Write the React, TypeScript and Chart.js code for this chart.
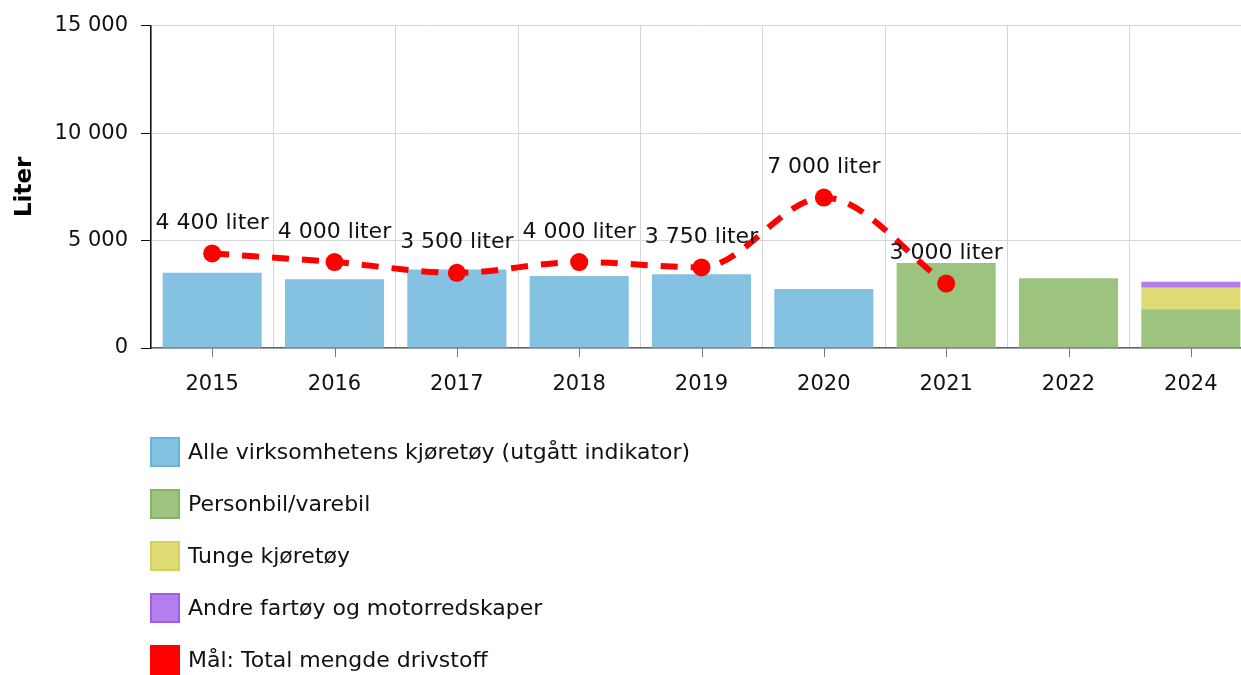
import React, { useEffect, useRef } from "react";
import { Chart, registerables } from "chart.js";

Chart.register(...registerables);

const categories = ["2015", "2016", "2017", "2018", "2019", "2020", "2021", "2022", "2024"];
const alleValues = [3500, 3200, 3650, 3350, 3430, 2750, null, null, null];
const personbilValues = [null, null, null, null, null, null, 3950, 3250, 1800];
const tungeValues = [null, null, null, null, null, null, null, null, 1000];
const andreValues = [null, null, null, null, null, null, null, null, 280];
const maalValues = [4400, 4000, 3500, 4000, 3750, 7000, 3000, null, null];

const seriesNames = [
  "Alle virksomhetens kjøretøy (utgått indikator)",
  "Personbil/varebil",
  "Tunge kjøretøy",
  "Andre fartøy og motorredskaper",
  "Mål: Total mengde drivstoff",
];
const yTicks = [0, 5000, 10000, 15000];

const FONT = "'DejaVu Sans', Verdana, sans-serif";

const fmt = (v: number) => String(Math.round(v)).replace(/\B(?=(\d{3})+(?!\d))/g, " ");

const xTickPlugin = {
  id: "xCenterTicks",
  afterDraw(chart: any) {
    const x = chart.scales.x;
    const ctx = chart.ctx;
    ctx.save();
    ctx.strokeStyle = "#777";
    ctx.lineWidth = 1;
    for (let i = 0; i < x.ticks.length; i++) {
      const px = Math.round(x.getPixelForTick(i)) + 0.5;
      ctx.beginPath();
      ctx.moveTo(px, x.top);
      ctx.lineTo(px, x.top + 9);
      ctx.stroke();
    }
    ctx.restore();
  },
};

const labelPlugin = {
  id: "pointLabels",
  afterDatasetsDraw(chart: any) {
    const ctx = chart.ctx;
    chart.data.datasets.forEach((ds: any, di: number) => {
      if (ds.type !== "line") return;
      const meta = chart.getDatasetMeta(di);
      ctx.save();
      ctx.font = `22px ${FONT}`;
      ctx.fillStyle = "#111";
      ctx.textAlign = "center";
      ctx.textBaseline = "middle";
      meta.data.forEach((pt: any, i: number) => {
        const v = ds.data[i];
        if (v == null) return;
        ctx.fillText(`${fmt(v)} liter`, pt.x, pt.y - 30);
      });
      ctx.restore();
    });
  },
};

const legendPlugin = {
  id: "vertLegend",
  afterDraw(chart: any) {
    const ctx = chart.ctx;
    ctx.save();
    ctx.font = `22px ${FONT}`;
    ctx.textBaseline = "middle";
    ctx.textAlign = "left";
    chart.data.datasets.forEach((ds: any, i: number) => {
      const y = 437 + i * 52;
      ctx.fillStyle = ds.legendFill;
      ctx.fillRect(150, y, 30, 30);
      ctx.strokeStyle = ds.legendBorder;
      ctx.lineWidth = 2;
      ctx.strokeRect(151, y + 1, 28, 28);
      ctx.fillStyle = "#111";
      ctx.fillText(ds.label, 188, y + 16);
    });
    ctx.restore();
  },
};

export default function App() {
  const ref = useRef<HTMLCanvasElement | null>(null);

  useEffect(() => {
    if (!ref.current) return;
    const barCommon = {
      type: "bar" as const,
      barPercentage: 0.81,
      categoryPercentage: 1,
      order: 1,
    };
    const chart = new Chart(ref.current, {
      data: {
        labels: categories,
        datasets: [
          { ...barCommon, label: seriesNames[0], data: alleValues, backgroundColor: "#85c1e1", legendFill: "#85c1e1", legendBorder: "#6ab3db" } as any,
          { ...barCommon, label: seriesNames[1], data: personbilValues, backgroundColor: "#9dc47e", legendFill: "#9dc47e", legendBorder: "#85b463" } as any,
          { ...barCommon, label: seriesNames[2], data: tungeValues, backgroundColor: "#e0dc75", legendFill: "#e0dc75", legendBorder: "#d6d05a" } as any,
          { ...barCommon, label: seriesNames[3], data: andreValues, backgroundColor: "#b57dee", legendFill: "#b57dee", legendBorder: "#9f5ee6" } as any,
          {
            type: "line",
            label: seriesNames[4],
            data: maalValues,
            borderColor: "#ff0000",
            backgroundColor: "#ff0000",
            borderWidth: 6,
            borderDash: [17, 13],
            cubicInterpolationMode: "monotone",
            pointRadius: 9,
            pointBorderWidth: 0,
            pointBackgroundColor: "#ff0000",
            spanGaps: false,
            order: 0,
            legendFill: "#ff0000",
            legendBorder: "#ff0000",
          } as any,
        ],
      },
      options: {
        animation: false,
        responsive: true,
        maintainAspectRatio: false,
        layout: { padding: { top: 24, right: 0, left: 0, bottom: 0 } },
        plugins: { legend: { display: false }, tooltip: { enabled: false } },
        scales: {
          x: {
            stacked: true,
            offset: true,
            grid: { offset: true, color: "#d6d6d6", drawTicks: false },
            border: { color: "#666", width: 1.5 },
            ticks: { font: { family: FONT, size: 21 }, color: "#111", padding: 24, maxRotation: 0 },
            afterFit: (s: any) => { s.height = 675 - 348; },
          },
          y: {
            stacked: true,
            min: 0,
            max: 15000,
            afterBuildTicks: (s: any) => { s.ticks = yTicks.map((v) => ({ value: v })); },
            grid: { color: "#d6d6d6", tickColor: "#111", tickLength: 10 },
            border: { color: "#111", width: 1.5 },
            ticks: {
              font: { family: FONT, size: 21 },
              color: "#111",
              padding: 13,
              callback: (v: any) => fmt(Number(v)),
            },
            title: { display: true, text: "Liter", font: { family: FONT, size: 23, weight: "bold" }, color: "#000", padding: { top: 11, bottom: 0 } },
            afterFit: (s: any) => { s.width = 151; },
          },
        },
      },
      plugins: [xTickPlugin, labelPlugin, legendPlugin],
    });
    return () => chart.destroy();
  }, []);

  return (
    <div style={{ position: "fixed", left: 0, top: 0, width: 1241, height: 675, overflow: "hidden", background: "#fff" }}>
      <div style={{ position: "absolute", left: 0, top: 0, width: 1261, height: 675 }}>
        <canvas ref={ref} />
      </div>
    </div>
  );
}
